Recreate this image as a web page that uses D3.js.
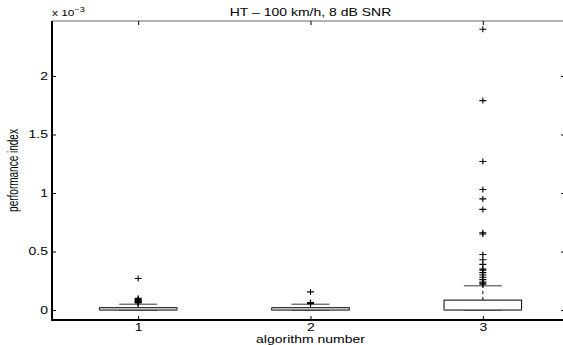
<!DOCTYPE html>
<html>
<head>
<meta charset="utf-8">
<script src="https://cdn.jsdelivr.net/npm/d3@7"></script>
<style>
  body { margin: 0; background: #fff; }
  text { font-family: "Liberation Sans", Arial, sans-serif; }
</style>
</head>
<body>
<div class="chart"></div>
<script>
// values in units of 1e-3 (as on the axis)
const categories = [1, 2, 3];
const q1 = [0.0, 0.0, 0.0];
const medians = [0.006, 0.006, 0.004];
const q3 = [0.02, 0.02, 0.085];
const whiskerLow = [0.0, 0.0, 0.0];
const whiskerHigh = [0.05, 0.05, 0.207];
const outliers1 = [0.06, 0.065, 0.07, 0.075, 0.08, 0.085, 0.09, 0.1, 0.27];
const outliers2 = [0.055, 0.06, 0.065, 0.155];
const outliers3 = [0.22, 0.23, 0.24, 0.26, 0.28, 0.30, 0.32, 0.34, 0.35, 0.39, 0.43, 0.475,
                   0.65, 0.66, 0.86, 0.95, 1.03, 1.27, 1.79, 2.40];
const yTicks = [0, 0.5, 1, 1.5, 2];

let width = 563,
    height = 345;
let margin = { top: 21, left: 52, bottom: 320, right: 569 };
let sx = 1.4;   // the original figure is stretched sideways

let x = d3.scaleLinear()
          .domain([0.5, 3.5])
          .range([margin.left, margin.right]);
let y = d3.scaleLinear()
          .domain([-0.085, 2.47])
          .range([margin.bottom, margin.top]);

let svg = d3.select(".chart").append("svg")
    .attr("width", width)
    .attr("height", height);

let data = categories.map(function (c, i) {
    return {
        cat: c, q1: q1[i], med: medians[i], q3: q3[i],
        lo: whiskerLow[i], hi: whiskerHigh[i],
        out: [outliers1, outliers2, outliers3][i]
    };
});

function stretchText(g) {
    g.selectAll("text").each(function () {
        let t = d3.select(this);
        let tx = +t.attr("x") || 0, ty = +t.attr("y") || 0;
        t.attr("x", 0).attr("y", 0)
         .attr("transform", "translate(" + tx + "," + ty + ") scale(" + sx + ",1)")
         .attr("font-size", 10).attr("fill", "#000");
    });
}

// axes: top gray line, left + bottom thick black
svg.append("line")
    .attr("x1", margin.left).attr("x2", margin.right)
    .attr("y1", margin.top).attr("y2", margin.top)
    .attr("stroke", "#666").attr("stroke-width", 1.2);

svg.append("g")
    .attr("transform", "translate(" + margin.left + ",0)")
    .call(d3.axisLeft(y).tickValues(yTicks).tickSize(-4).tickPadding(4)
        .tickFormat(function (d) { return d; }))
    .call(function (g) {
        g.select(".domain").remove();
        stretchText(g);
    });

// right-side ticks (axis sits just past the edge)
svg.append("g")
    .attr("transform", "translate(" + margin.right + ",0)")
    .call(d3.axisRight(y).tickValues(yTicks).tickSize(-8).tickFormat(""))
    .call(function (g) { g.select(".domain").remove(); });

svg.append("g")
    .attr("transform", "translate(0," + margin.bottom + ")")
    .call(d3.axisBottom(x).tickValues(categories).tickSize(-4).tickPadding(4)
        .tickFormat(d3.format("d")))
    .call(function (g) {
        g.select(".domain").remove();
        stretchText(g);
    });

svg.append("g")
    .attr("transform", "translate(0," + margin.top + ")")
    .call(d3.axisTop(x).tickValues(categories).tickSize(-4).tickFormat(""))
    .call(function (g) { g.select(".domain").remove(); });

svg.append("line")
    .attr("x1", margin.left).attr("x2", margin.left)
    .attr("y1", margin.top).attr("y2", margin.bottom + 1)
    .attr("stroke", "#000").attr("stroke-width", 2);
svg.append("line")
    .attr("x1", margin.left).attr("x2", margin.right)
    .attr("y1", margin.bottom).attr("y2", margin.bottom)
    .attr("stroke", "#000").attr("stroke-width", 2);

// boxes
let boxW = 0.45, capW = 0.22;
let boxes = svg.selectAll(".box").data(data).enter().append("g").attr("class", "box");

boxes.append("line")
    .attr("x1", function (d) { return x(d.cat); })
    .attr("x2", function (d) { return x(d.cat); })
    .attr("y1", function (d) { return y(d.q3); })
    .attr("y2", function (d) { return y(d.hi); })
    .attr("stroke", "#000").attr("stroke-dasharray", "3,3");
boxes.append("line")
    .attr("x1", function (d) { return x(d.cat); })
    .attr("x2", function (d) { return x(d.cat); })
    .attr("y1", function (d) { return y(d.q1); })
    .attr("y2", function (d) { return y(d.lo); })
    .attr("stroke", "#000").attr("stroke-dasharray", "3,3");

boxes.append("line")
    .attr("x1", function (d) { return x(d.cat - capW / 2); })
    .attr("x2", function (d) { return x(d.cat + capW / 2); })
    .attr("y1", function (d) { return y(d.hi); })
    .attr("y2", function (d) { return y(d.hi); })
    .attr("stroke", "#000").attr("stroke-width", 0.8);
boxes.append("line")
    .attr("x1", function (d) { return x(d.cat - capW / 2); })
    .attr("x2", function (d) { return x(d.cat + capW / 2); })
    .attr("y1", function (d) { return y(d.lo); })
    .attr("y2", function (d) { return y(d.lo); })
    .attr("stroke", "#000").attr("stroke-width", 0.8);

boxes.append("rect")
    .attr("x", function (d) { return x(d.cat - boxW / 2); })
    .attr("width", function (d) { return x(boxW) - x(0); })
    .attr("y", function (d) { return y(d.q3); })
    .attr("height", function (d) { return y(d.q1) - y(d.q3); })
    .attr("fill", "#fff").attr("stroke", "#000").attr("stroke-width", 1);

boxes.append("line")
    .attr("x1", function (d) { return x(d.cat - boxW / 2); })
    .attr("x2", function (d) { return x(d.cat + boxW / 2); })
    .attr("y1", function (d) { return y(d.med); })
    .attr("y2", function (d) { return y(d.med); })
    .attr("stroke", "#888").attr("stroke-width", 1);

// outliers as '+'
let pts = [];
data.forEach(function (d) { d.out.forEach(function (v) { pts.push({ cat: d.cat, v: v }); }); });
svg.selectAll(".out").data(pts).enter().append("path")
    .attr("class", "out")
    .attr("d", function (d) {
        let cx = x(d.cat), cy = y(d.v);
        return "M" + (cx - 3.5) + "," + cy + "H" + (cx + 3.5) + "M" + cx + "," + (cy - 3) + "V" + (cy + 3);
    })
    .attr("stroke", "#000").attr("stroke-width", 1.1).attr("fill", "none");

// texts
function label(tx, ty, rot) {
    return svg.append("text")
        .attr("transform", "translate(" + tx + "," + ty + ") scale(" + sx + ",1)" + (rot ? " rotate(" + rot + ")" : ""))
        .attr("font-size", 10);
}

label((margin.left + margin.right) / 2, 16).attr("text-anchor", "middle")
    .text("HT \u2013 100 km/h, 8 dB SNR");

let ex = label(margin.left, 16).attr("font-size", 8.5);
ex.append("tspan").text("x 10");
ex.append("tspan").attr("dy", -4).attr("font-size", 6.5).text("\u22123");

label((margin.left + margin.right) / 2, 343).attr("text-anchor", "middle")
    .text("algorithm number");

label(18, (margin.top + margin.bottom) / 2, -90).attr("text-anchor", "middle")
    .text("performance index");
</script>
</body>
</html>
